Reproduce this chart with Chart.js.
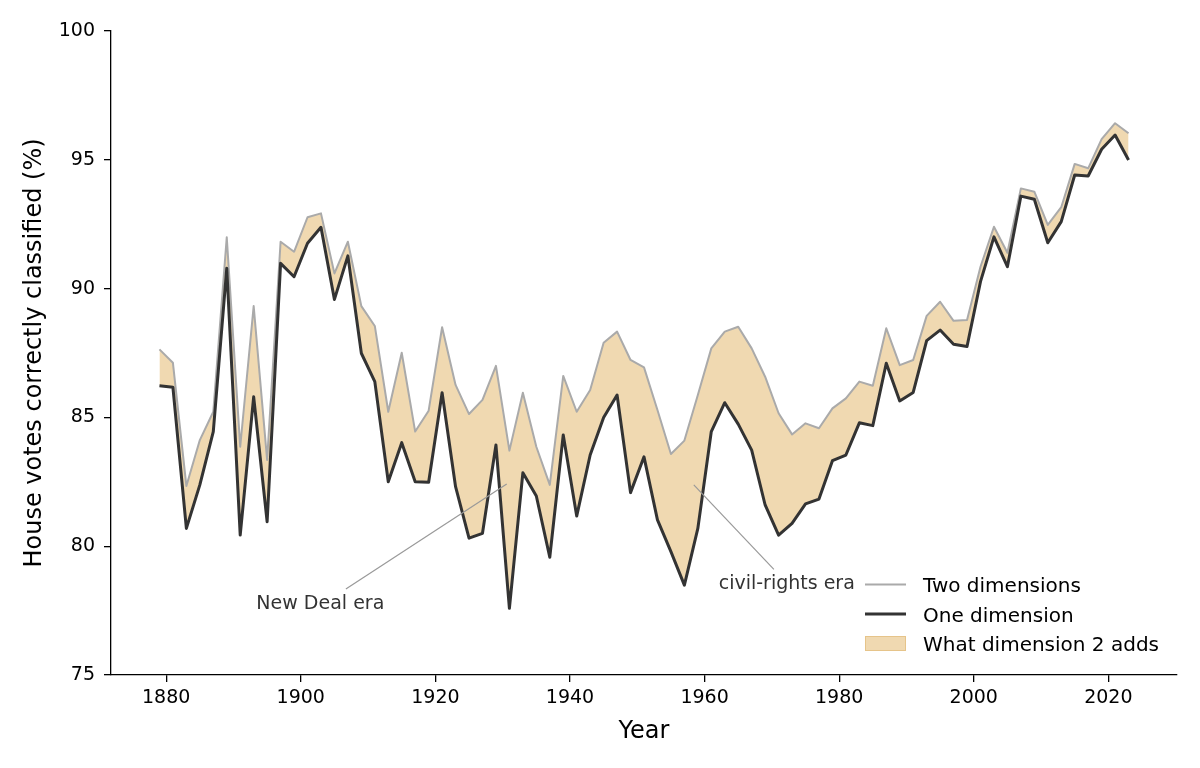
<!DOCTYPE html>
<html>
<head>
<meta charset="utf-8">
<script src="https://cdn.jsdelivr.net/npm/chart.js@4"></script>
<style>
  html, body { margin: 0; padding: 0; background: #fff; }
  #chart { display: block; }
</style>
</head>
<body>
<canvas id="chart" width="1200" height="768"></canvas>
<script>
// Congress start years
const years = [1879, 1881, 1883, 1885, 1887, 1889, 1891, 1893, 1895, 1897, 1899,
  1901, 1903, 1905, 1907, 1909, 1911, 1913, 1915, 1917, 1919,
  1921, 1923, 1925, 1927, 1929, 1931, 1933, 1935, 1937, 1939,
  1941, 1943, 1945, 1947, 1949, 1951, 1953, 1955, 1957, 1959,
  1961, 1963, 1965, 1967, 1969, 1971, 1973, 1975, 1977, 1979,
  1981, 1983, 1985, 1987, 1989, 1991, 1993, 1995, 1997, 1999,
  2001, 2003, 2005, 2007, 2009, 2011, 2013, 2015, 2017, 2019,
  2021, 2023]

const oneDim = [86.23, 86.17, 80.69, 82.38, 84.45, 90.79, 80.43, 85.80, 80.95, 90.98, 90.46,
  91.76, 92.38, 89.58, 91.27, 87.49, 86.39, 82.50, 84.02, 82.50, 82.48,
  85.96, 82.31, 80.31, 80.50, 83.93, 77.59, 82.85, 81.95, 79.57, 84.32,
  81.17, 83.54, 85.00, 85.87, 82.08, 83.47, 81.02, 79.79, 78.49, 80.69,
  84.45, 85.57, 84.74, 83.73, 81.60, 80.43, 80.89, 81.64, 81.83, 83.32,
  83.54, 84.79, 84.68, 87.10, 85.64, 85.97, 87.98, 88.39, 87.84, 87.75,
  90.27, 92.01, 90.85, 93.59, 93.47, 91.78, 92.60, 94.41, 94.37, 95.41,
  95.96, 94.99]

const twoDim = [87.64, 87.12, 82.34, 84.12, 85.22, 91.99, 83.86, 89.32, 83.35, 91.82, 91.43,
  92.77, 92.92, 90.59, 91.82, 89.32, 88.55, 85.22, 87.51, 84.45, 85.26,
  88.50, 86.26, 85.13, 85.68, 87.00, 83.71, 85.96, 83.86, 82.38, 86.61,
  85.22, 86.06, 87.90, 88.33, 87.23, 86.94, 85.29, 83.58, 84.10, 85.87,
  87.68, 88.33, 88.52, 87.68, 86.58, 85.16, 84.34, 84.77, 84.58, 85.35,
  85.74, 86.39, 86.23, 88.46, 87.03, 87.23, 88.94, 89.49, 88.75, 88.78,
  90.85, 92.40, 91.39, 93.89, 93.76, 92.47, 93.16, 94.84, 94.67, 95.80,
  96.42, 96.03]

const xTicks = [1880, 1900, 1920, 1940, 1960, 1980, 2000, 2020]
const yTicks = [75, 80, 85, 90, 95, 100]

const legendLabels = ['Two dimensions', 'One dimension', 'What dimension 2 adds']

// annotation text + leader line, in data coordinates
const notes = [
  { text: 'New Deal era', at: [1893.4, 77.55], from: [1906.7, 78.34], to: [1930.6, 82.41] },
  { text: 'civil-rights era', at: [1962.1, 78.33], from: [1970.3, 79.10], to: [1958.4, 82.38] }
]

const darkColor = '#333333'
const grayColor = '#aaaaaa'
const fillColor = '#f0d9b1'
const fillEdge = '#e6c48a'
const font = 'DejaVu Sans'

Chart.defaults.font.family = font
Chart.defaults.color = '#000'

var overlay = {
  id: 'overlay',
  afterDraw(chart) {
    var ctx = chart.ctx
    var xs = chart.scales.x
    var ys = chart.scales.y
    var area = chart.chartArea
    ctx.save()

    // annotations
    notes.forEach(n => {
      ctx.strokeStyle = '#999999'
      ctx.lineWidth = 1.2
      ctx.beginPath()
      ctx.moveTo(xs.getPixelForValue(n.from[0]), ys.getPixelForValue(n.from[1]))
      ctx.lineTo(xs.getPixelForValue(n.to[0]), ys.getPixelForValue(n.to[1]))
      ctx.stroke()
      ctx.fillStyle = '#333333'
      ctx.font = '19px "' + font + '"'
      ctx.textAlign = 'left'
      ctx.textBaseline = 'alphabetic'
      ctx.fillText(n.text, xs.getPixelForValue(n.at[0]), ys.getPixelForValue(n.at[1]))
    })

    // legend, lower right, no frame
    var hx = area.right - 312
    var tx = hx + 58
    var base = area.bottom - 83
    var step = 29.5
    ctx.font = '20px "' + font + '"'
    ctx.textAlign = 'left'
    ctx.textBaseline = 'alphabetic'
    legendLabels.forEach((label, i) => {
      var by = base + i * step
      var cy = by - 7.5
      if (i === 0 || i === 1) {
        ctx.strokeStyle = i === 0 ? grayColor : darkColor
        ctx.lineWidth = i === 0 ? 2 : 3
        ctx.beginPath()
        ctx.moveTo(hx, cy)
        ctx.lineTo(hx + 41, cy)
        ctx.stroke()
      } else {
        ctx.fillStyle = fillColor
        ctx.fillRect(hx, cy - 7.5, 41, 15)
        ctx.strokeStyle = fillEdge
        ctx.lineWidth = 1
        ctx.strokeRect(hx + 0.5, cy - 7.5 + 0.5, 40, 14)
      }
      ctx.fillStyle = '#000'
      ctx.fillText(label, tx, by)
    })
    ctx.restore()
  }
}

var ctx = document.getElementById('chart')
var chart = new Chart(ctx, {
  type: 'line',
  data: {
    datasets: [{
      label: 'One dimension',
      data: years.map((y, i) => ({ x: y, y: oneDim[i] })),
      borderColor: darkColor,
      borderWidth: 3,
      fill: false,
      pointRadius: 0,
      borderJoinStyle: 'round',
      tension: 0
    }, {
      label: 'Two dimensions',
      data: years.map((y, i) => ({ x: y, y: twoDim[i] })),
      borderColor: grayColor,
      borderWidth: 2,
      backgroundColor: fillColor,
      fill: '-1',
      pointRadius: 0,
      borderJoinStyle: 'round',
      tension: 0
    }]
  },
  options: {
    responsive: false,
    animation: false,
    devicePixelRatio: 1,
    layout: { padding: { left: 0, top: 31, right: 23, bottom: 0 } },
    plugins: {
      legend: { display: false },
      tooltip: { enabled: false },
      filler: { propagate: false }
    },
    scales: {
      x: {
        type: 'linear',
        min: 1871.8,
        max: 2030.2,
        afterBuildTicks: scale => { scale.ticks = xTicks.map(v => ({ value: v })) },
        afterFit: scale => { scale.height = 93 },
        grid: { drawOnChartArea: false, drawTicks: true, tickLength: 7, color: '#000', lineWidth: 1.3 },
        border: { display: true, color: '#000', width: 1.3 },
        ticks: {
          font: { size: 19 },
          color: '#000',
          padding: 5,
          maxRotation: 0,
          autoSkip: false,
          callback: v => String(v)
        },
        title: { display: true, text: 'Year', font: { size: 24 }, color: '#000', padding: { top: 0, bottom: 22 } }
      },
      y: {
        min: 75,
        max: 100,
        afterBuildTicks: scale => { scale.ticks = yTicks.map(v => ({ value: v })) },
        afterFit: scale => { scale.width = 111 },
        grid: { drawOnChartArea: false, drawTicks: true, tickLength: 7, color: '#000', lineWidth: 1.3 },
        border: { display: true, color: '#000', width: 1.3 },
        ticks: {
          font: { size: 19 },
          color: '#000',
          padding: 9,
          callback: v => String(v)
        },
        title: { display: true, text: 'House votes correctly classified (%)', font: { size: 24 }, color: '#000', padding: { top: 20, bottom: 0 } }
      }
    }
  },
  plugins: [overlay]
})
</script>
</body>
</html>
